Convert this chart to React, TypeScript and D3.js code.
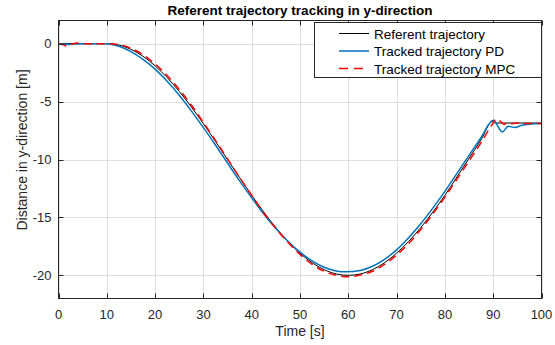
import React from "react";
import * as d3 from "d3";

// Referent trajectory (time [s], y [m])
const refTime = [0, 5, 10, 12.5, 15, 17.5, 20, 22.5, 25, 27.5, 30, 32.5, 35, 37.5, 40, 42.5, 45, 47.5, 50, 52.5, 55, 57.5, 60, 62.5, 65, 67.5, 70, 72.5, 75, 77.5, 80, 82.5, 85, 87.5, 89.8, 90.3, 95, 100];
const refY = [0, 0, 0, -0.12, -0.49, -1.09, -1.91, -2.93, -4.12, -5.46, -6.91, -8.44, -10.0, -11.56, -13.09, -14.54, -15.88, -17.07, -18.09, -18.91, -19.51, -19.88, -20.0, -19.88, -19.51, -18.91, -18.09, -17.07, -15.88, -14.54, -13.09, -11.5, -9.9, -8.3, -6.72, -6.85, -6.85, -6.85];

// Tracked trajectory with PD controller
const pdTime = [0, 1, 2, 3, 5, 10, 12.5, 15, 17.5, 20, 22.5, 25, 27.5, 30, 32.5, 35, 37.5, 40, 42.5, 45, 47.5, 50, 52.5, 55, 57.5, 59.5, 62.5, 65, 67.5, 70, 72.5, 75, 77.5, 80, 82.5, 85, 87.5, 90, 91.9, 93.1, 94.5, 95.9, 97.5, 100];
const pdY = [0, -0.04, -0.08, -0.02, 0, 0, -0.22, -0.68, -1.35, -2.2, -3.25, -4.45, -5.8, -7.25, -8.75, -10.3, -11.85, -13.3, -14.7, -15.95, -17.05, -18.0, -18.75, -19.3, -19.62, -19.7, -19.58, -19.22, -18.62, -17.8, -16.75, -15.55, -14.2, -12.75, -11.2, -9.65, -8.1, -6.62, -7.62, -7.13, -7.24, -7.04, -6.95, -6.9];

// Tracked trajectory with MPC controller
const mpcTime = [0, 1, 1.7, 2.5, 4, 6, 10, 12.5, 15, 17.5, 20, 22.5, 25, 27.5, 30, 32.5, 35, 37.5, 40, 42.5, 45, 47.5, 50, 52.5, 55, 57.5, 60.3, 62.5, 65, 67.5, 70, 72.5, 75, 77.5, 80, 82.5, 85, 87.5, 89.6, 90.7, 91.5, 92.2, 93.5, 95, 97, 100];
const mpcY = [0, -0.1, -0.2, -0.08, 0.05, 0, 0, -0.08, -0.4, -0.95, -1.75, -2.75, -3.95, -5.3, -6.8, -8.35, -9.95, -11.55, -13.1, -14.6, -15.95, -17.15, -18.2, -19.05, -19.65, -20.0, -20.12, -19.98, -19.65, -19.05, -18.25, -17.25, -16.05, -14.7, -13.25, -11.7, -10.12, -8.55, -7.1, -6.5, -6.7, -6.95, -6.92, -6.85, -6.9, -6.9];

const xTicks = [0, 10, 20, 30, 40, 50, 60, 70, 80, 90, 100];
const yTicks = [0, -5, -10, -15, -20];
const seriesLabels = ["Referent trajectory", "Tracked trajectory PD", "Tracked trajectory MPC"];

const W = 555;
const H = 345;
const plot = { left: 58.5, right: 541.5, top: 20.5, bottom: 298.5 };
const axisColor = "#262626";
const font = "'Liberation Sans', Arial, Helvetica, sans-serif";

export default function App() {
  const x = d3.scaleLinear().domain([0, 100]).range([plot.left, plot.right]);
  const y = d3.scaleLinear().domain([-22, 2]).range([plot.bottom, plot.top]);

  const line = (ts: number[], vs: number[]) =>
    d3
      .line<number>()
      .x((_, i) => x(ts[i]))
      .y((v) => y(v))
      .curve(d3.curveMonotoneX)(vs) as string;

  const series = [
    { d: line(refTime, refY), color: "#000000", width: 1, dash: undefined as string | undefined },
    { d: line(pdTime, pdY), color: "#0072BD", width: 1.5, dash: undefined },
    { d: line(mpcTime, mpcY), color: "#FF0000", width: 1.5, dash: "8,5" },
  ];

  const tickLen = 5;
  const legend = { x0: 314, y0: 22, x1: 541, y1: 77 };
  const legendRows = [33.5, 51, 68.5];

  return (
    <svg
      width={W}
      height={H}
      style={{ position: "absolute", left: 0, top: 0, background: "#fff" }}
      fontFamily={font}
    >
      <rect x={0} y={0} width={W} height={H} fill="#fff" />
      <rect x={plot.left} y={plot.top} width={plot.right - plot.left} height={plot.bottom - plot.top} fill="#fff" />

      {/* grid */}
      <g stroke="#dfdfdf" strokeWidth={1}>
        {xTicks.map((t) => (
          <line key={"gx" + t} x1={Math.round(x(t)) + 0.5} x2={Math.round(x(t)) + 0.5} y1={plot.top} y2={plot.bottom} />
        ))}
        {yTicks.map((t) => (
          <line key={"gy" + t} x1={plot.left} x2={plot.right} y1={Math.round(y(t)) + 0.5} y2={Math.round(y(t)) + 0.5} />
        ))}
      </g>

      {/* data */}
      <g fill="none" strokeLinejoin="round">
        {series.map((s, i) => (
          <path key={i} d={s.d} stroke={s.color} strokeWidth={s.width} strokeDasharray={s.dash} />
        ))}
      </g>

      {/* axes box and ticks */}
      <g stroke={axisColor} strokeWidth={1} fill="none">
        <rect x={plot.left} y={plot.top} width={plot.right - plot.left} height={plot.bottom - plot.top} />
        {xTicks.map((t) => {
          const px = Math.round(x(t)) + 0.5;
          return (
            <g key={"tx" + t}>
              <line x1={px} x2={px} y1={plot.bottom} y2={plot.bottom - tickLen} />
              <line x1={px} x2={px} y1={plot.top} y2={plot.top + tickLen} />
            </g>
          );
        })}
        {yTicks.map((t) => {
          const py = Math.round(y(t)) + 0.5;
          return (
            <g key={"ty" + t}>
              <line x1={plot.left} x2={plot.left + tickLen} y1={py} y2={py} />
              <line x1={plot.right} x2={plot.right - tickLen} y1={py} y2={py} />
            </g>
          );
        })}
      </g>

      {/* tick labels */}
      <g fill={axisColor} fontSize={13}>
        {xTicks.map((t) => (
          <text key={"lx" + t} x={x(t)} y={plot.bottom + 20} textAnchor="middle">
            {t}
          </text>
        ))}
        {yTicks.map((t) => (
          <text key={"ly" + t} x={plot.left - 7} y={y(t) + 4.5} textAnchor="end">
            {t}
          </text>
        ))}
      </g>

      {/* axis labels and title */}
      <text x={(plot.left + plot.right) / 2} y={336} textAnchor="middle" fontSize={14} fill={axisColor}>
        Time [s]
      </text>
      <text
        transform={`translate(26.5,150) rotate(-90)`}
        textAnchor="middle"
        fontSize={14}
        fill={axisColor}
      >
        Distance in y-direction [m]
      </text>
      <text x={(plot.left + plot.right) / 2} y={15} textAnchor="middle" fontSize={13.5} fontWeight="bold" fill="#000">
        Referent trajectory tracking in y-direction
      </text>

      {/* legend */}
      <rect
        x={legend.x0 + 0.5}
        y={legend.y0 + 0.5}
        width={legend.x1 - legend.x0}
        height={legend.y1 - legend.y0}
        fill="#fff"
        stroke={axisColor}
        strokeWidth={1}
      />
      {series.map((s, i) => (
        <g key={"lg" + i}>
          <line
            x1={339}
            x2={369}
            y1={legendRows[i]}
            y2={legendRows[i]}
            stroke={s.color}
            strokeWidth={s.width}
            strokeDasharray={s.dash ? "9,6" : undefined}
          />
          <text x={374} y={legendRows[i] + 5} fontSize={13.5} fill="#000">
            {seriesLabels[i]}
          </text>
        </g>
      ))}
    </svg>
  );
}
